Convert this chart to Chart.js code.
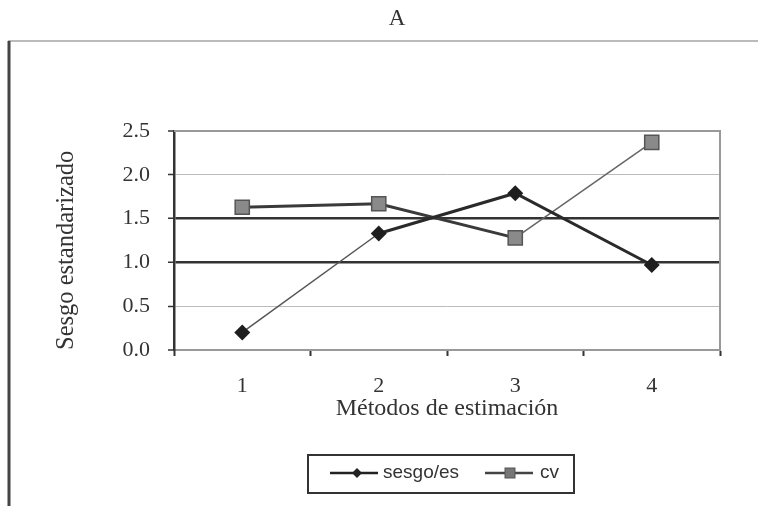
<!DOCTYPE html>
<html>
<head>
<meta charset="utf-8">
<script src="https://cdn.jsdelivr.net/npm/chart.js@4/dist/chart.umd.min.js"></script>
<style>
  html, body { margin: 0; padding: 0; background: #fff; }
  #wrap { width: 758px; height: 506px; }
</style>
</head>
<body>
<div id="wrap"><canvas id="chart" width="758" height="506"></canvas></div>
<script>
const categories = ['1', '2', '3', '4'];
const sesgoValues = [0.2, 1.33, 1.79, 0.97];
const cvValues = [1.63, 1.67, 1.28, 2.37];
const yTicks = [0, 0.5, 1.0, 1.5, 2.0, 2.5];

// segment widths look uneven in the scan
const sesgoSegWidth = [1.5, 3, 3];
const cvSegWidth = [3, 3, 1.5];

const SERIF = '"Liberation Serif", "Times New Roman", serif';
const SANS = '"Liberation Sans", Arial, sans-serif';

/**
 * draws frame, title "A" and the boxed legend
 */
const decorPlugin = {
    id: 'decor',
    beforeDraw(chart) {
        const ctx = chart.ctx;
        ctx.save();
        ctx.fillStyle = '#fff';
        ctx.fillRect(0, 0, chart.width, chart.height);
        ctx.strokeStyle = '#bbb';
        ctx.lineWidth = 2;
        ctx.beginPath();
        ctx.moveTo(8, 41);
        ctx.lineTo(758, 41);
        ctx.stroke();
        ctx.strokeStyle = '#444';
        ctx.lineWidth = 3;
        ctx.beginPath();
        ctx.moveTo(9, 41);
        ctx.lineTo(9, 506);
        ctx.stroke();

        ctx.fillStyle = '#333';
        ctx.font = '23px ' + SERIF;
        ctx.textAlign = 'center';
        ctx.textBaseline = 'middle';
        ctx.fillText('A', 397, 19);
        ctx.restore();
    },
    beforeDatasetsDraw(chart) {
        const a = chart.chartArea;
        const ctx = chart.ctx;
        ctx.save();
        ctx.strokeStyle = '#999';
        ctx.lineWidth = 2;
        ctx.beginPath();
        ctx.moveTo(a.left, a.top);
        ctx.lineTo(a.right, a.top);
        ctx.lineTo(a.right, a.bottom);
        ctx.stroke();
        ctx.restore();
    },
    afterDraw(chart) {
        const ctx = chart.ctx;
        const ds = chart.data.datasets;
        ctx.save();
        ctx.strokeStyle = '#333';
        ctx.lineWidth = 2;
        ctx.strokeRect(308, 455, 266, 38);

        const y = 473;
        // sesgo/es entry
        ctx.strokeStyle = '#222';
        ctx.lineWidth = 2.5;
        ctx.beginPath();
        ctx.moveTo(330, y);
        ctx.lineTo(378, y);
        ctx.stroke();
        ctx.fillStyle = '#222';
        ctx.beginPath();
        ctx.moveTo(357, y - 5);
        ctx.lineTo(362, y);
        ctx.lineTo(357, y + 5);
        ctx.lineTo(352, y);
        ctx.closePath();
        ctx.fill();

        // cv entry
        ctx.strokeStyle = '#444';
        ctx.beginPath();
        ctx.moveTo(485, y);
        ctx.lineTo(533, y);
        ctx.stroke();
        ctx.fillStyle = '#777';
        ctx.fillRect(505, y - 5, 10, 10);
        ctx.strokeStyle = '#555';
        ctx.lineWidth = 1;
        ctx.strokeRect(505, y - 5, 10, 10);

        ctx.fillStyle = '#333';
        ctx.font = '19px ' + SANS;
        ctx.textAlign = 'left';
        ctx.textBaseline = 'middle';
        ctx.fillText(ds[0].label, 383, y);
        ctx.fillText(ds[1].label, 540, y);
        ctx.restore();
    }
};

function gridColor(ctx) {
    const v = ctx.tick && ctx.tick.value;
    if (v === 1 || v === 1.5) return '#333';
    if (v === 0 || v === 2.5) return '#999';
    return '#bbb';
}

function gridWidth(ctx) {
    const v = ctx.tick && ctx.tick.value;
    if (v === 1 || v === 1.5) return 2.5;
    if (v === 0 || v === 2.5) return 2;
    return 1;
}

new Chart(document.getElementById('chart'), {
    type: 'line',
    data: {
        labels: categories,
        datasets: [{
            label: 'sesgo/es',
            data: sesgoValues,
            borderColor: '#2a2a2a',
            backgroundColor: '#1e1e1e',
            borderWidth: 3,
            pointStyle: 'rectRot',
            pointRadius: 8,
            pointBorderWidth: 0,
            pointBackgroundColor: '#1e1e1e',
            tension: 0,
            segment: {
                borderWidth: ctx => sesgoSegWidth[ctx.p0DataIndex],
                borderColor: ctx => sesgoSegWidth[ctx.p0DataIndex] < 2 ? '#555' : '#2a2a2a',
            },
        }, {
            label: 'cv',
            data: cvValues,
            borderColor: '#3a3a3a',
            backgroundColor: '#8a8a8a',
            borderWidth: 3,
            pointStyle: 'rect',
            pointRadius: 10,
            pointBorderWidth: 1.5,
            pointBorderColor: '#555',
            pointBackgroundColor: '#8a8a8a',
            tension: 0,
            segment: {
                borderWidth: ctx => cvSegWidth[ctx.p0DataIndex],
                borderColor: ctx => cvSegWidth[ctx.p0DataIndex] < 2 ? '#666' : '#3a3a3a',
            },
        }]
    },
    options: {
        responsive: false,
        animation: false,
        layout: {
            padding: { left: 52, right: 38, top: 131, bottom: 83 }
        },
        plugins: {
            legend: { display: false },
            title: { display: false },
            tooltip: { enabled: false },
        },
        scales: {
            x: {
                offset: true,
                grid: {
                    offset: true,
                    drawOnChartArea: false,
                    tickLength: 6,
                    tickColor: '#333',
                    tickWidth: 2,
                },
                border: { color: '#999', width: 2 },
                ticks: {
                    color: '#333',
                    padding: 17,
                    font: { family: SERIF, size: 22 },
                },
                title: {
                    display: true,
                    text: 'Métodos de estimación',
                    color: '#333',
                    padding: 0,
                    font: { family: SERIF, size: 24 },
                },
                afterFit(scale) { scale.height = 73; },
            },
            y: {
                min: 0,
                max: 2.5,
                afterBuildTicks(scale) {
                    scale.ticks = yTicks.map(v => ({ value: v }));
                },
                grid: {
                    color: gridColor,
                    lineWidth: gridWidth,
                    tickLength: 6,
                    tickColor: '#333',
                    tickWidth: 1.5,
                },
                border: { color: '#333', width: 2.5 },
                ticks: {
                    color: '#333',
                    padding: 18,
                    font: { family: SERIF, size: 22 },
                    callback: v => v.toFixed(1),
                },
                title: {
                    display: true,
                    text: 'Sesgo estandarizado',
                    align: 'start',
                    color: '#333',
                    padding: 0,
                    font: { family: SERIF, size: 24.5 },
                },
                afterFit(scale) { scale.width = 122; },
            }
        }
    },
    plugins: [decorPlugin]
});
</script>
</body>
</html>
